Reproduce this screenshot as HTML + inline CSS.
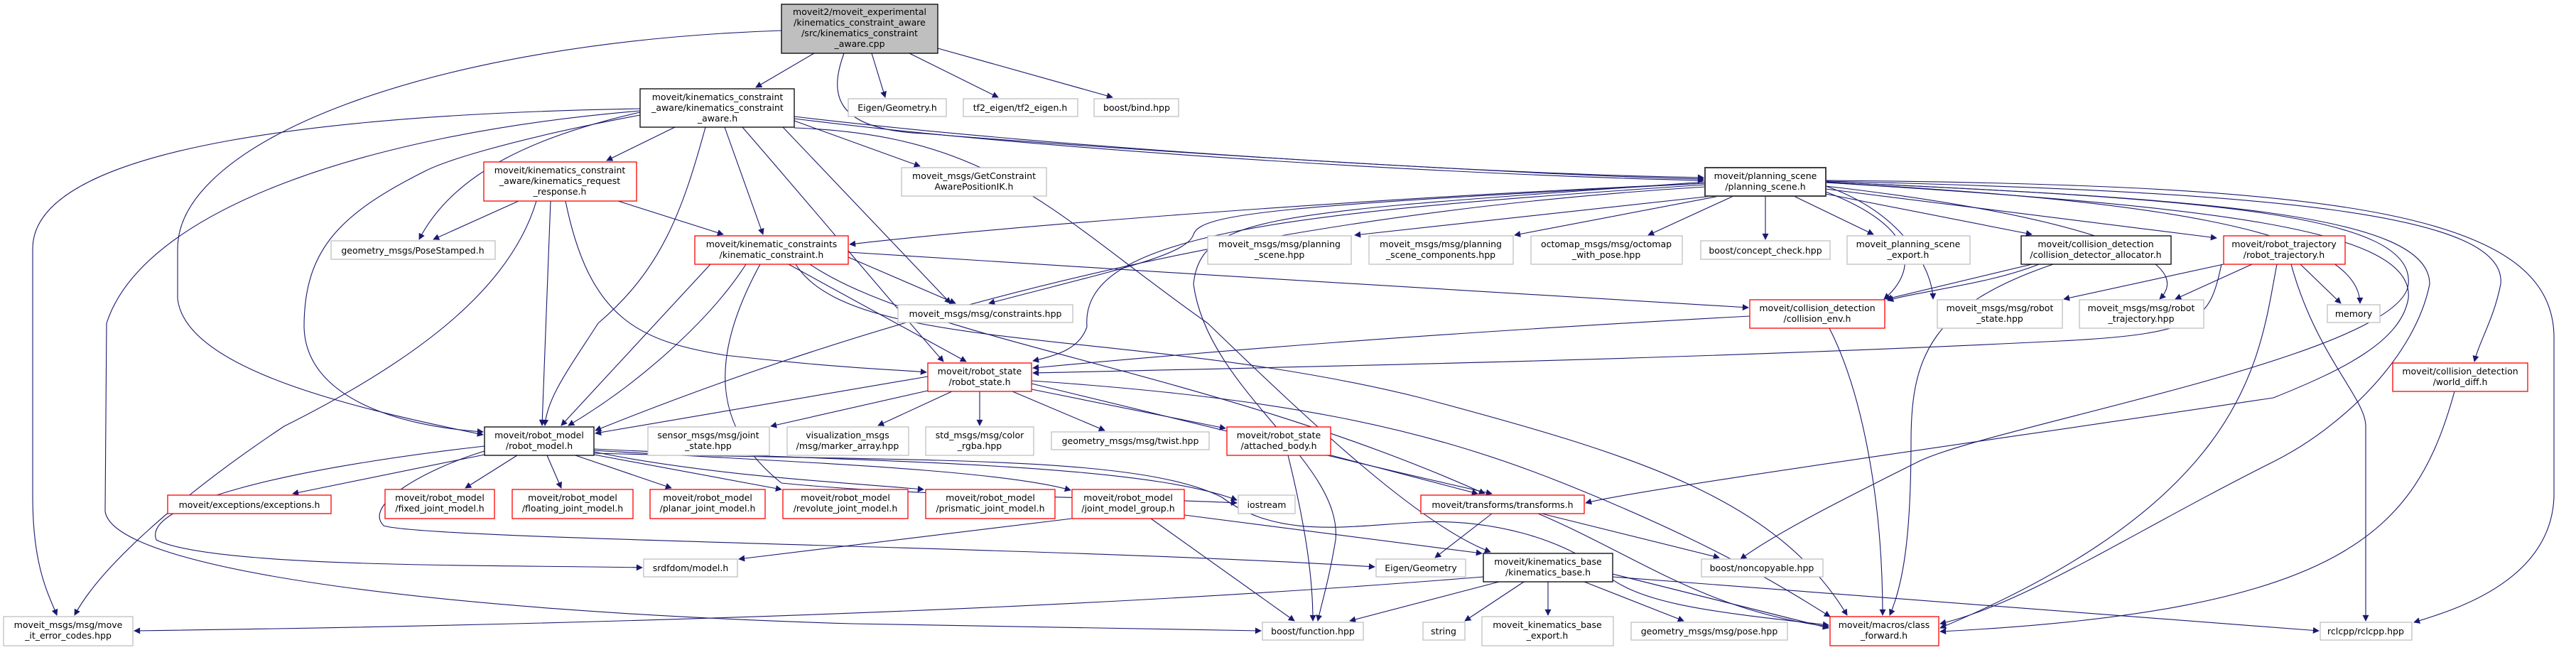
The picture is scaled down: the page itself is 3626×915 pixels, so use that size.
<!DOCTYPE html>
<html><head><meta charset="utf-8"><style>
html,body{margin:0;padding:0;background:#fff;}
svg{display:block;}
text{font-family:"DejaVu Sans","Liberation Sans",sans-serif;font-size:12.5px;fill:#000;text-anchor:middle;}
.e{fill:none;stroke:#191970;stroke-width:1.1;}
.r{fill:#fff;stroke:#ff0000;stroke-width:1.3;}
.g{fill:#fff;stroke:#bfbfbf;stroke-width:1.3;}
.b{fill:#fff;stroke:#000;stroke-width:1.3;}
</style></head><body>
<svg width="3626" height="915" viewBox="0 0 3626 915" xmlns="http://www.w3.org/2000/svg">
<defs><marker id="a" viewBox="0 0 10 10" refX="9" refY="5" markerWidth="11" markerHeight="9" markerUnits="userSpaceOnUse" orient="auto"><path d="M0,0 L10,5 L0,10 z" fill="#191970"/></marker></defs>
<g class="e" marker-end="url(#a)">
<!-- root -->
<path d="M1100,43 C600,60 250,200 250,350 L250,420 C260,520 500,575 680,612"/>
<path d="M1146,75 L1064,123"/>
<path d="M1227,75 L1246,137"/>
<path d="M1280,75 L1405,137"/>
<path d="M1320,68 L1566,137"/>
<path d="M1188,75 C1168,130 1170,182 1300,188 C1700,220 2200,248 2398,252"/>
<!-- KCA -->
<path d="M901,153 C500,160 46,200 46,350 L46,700 C46,800 70,840 80,866"/>
<path d="M901,156 C500,190 200,300 150,455 L148,720 C160,800 600,860 1200,878 L1775,888"/>
<path d="M901,162 C700,200 620,230 600,240 C480,300 428,350 428,460 C430,560 560,600 680,608"/>
<path d="M901,158 C760,190 640,240 590,337"/>
<path d="M950,179 L854,226"/>
<path d="M1020,179 L1074,330"/>
<path d="M993,179 C960,300 930,380 842,455 C800,520 770,560 767,599"/>
<path d="M1045,179 C1150,300 1250,420 1328,509"/>
<path d="M1102,179 L1338,427"/>
<path d="M1118,170 L1295,234"/>
<path d="M1118,164 C1500,210 2100,245 2398,250"/>
<path d="M1118,167 C1500,215 2100,248 2398,254"/>
<path d="M1118,180 C1400,190 1480,300 1700,455 C1850,600 2000,740 2098,777"/>
<!-- RR -->
<path d="M730,283 L610,337"/>
<path d="M870,283 L1018,330"/>
<path d="M775,283 L763,599"/>
<path d="M755,283 C720,400 600,500 400,600 C250,700 140,800 105,866"/>
<path d="M796,283 C830,450 900,480 1020,500 C1200,520 1260,520 1304,524"/>
<!-- KC -->
<path d="M1194,355 C1600,380 2200,420 2461,433"/>
<path d="M1194,362 L1345,427"/>
<path d="M1110,372 L1360,509"/>
<path d="M1000,372 L790,599"/>
<path d="M1050,372 C1000,450 900,540 800,599"/>
<path d="M1140,372 C1300,480 1700,520 2090,695"/>
<path d="M1120,372 C1200,500 1600,460 2000,560 C2300,640 2500,700 2600,866"/>
<path d="M1070,372 C1000,500 1000,600 1100,680 C1300,700 1600,700 1741,708"/>
<!-- PSC -->
<path d="M2400,258 C1900,280 1400,320 1196,344"/>
<path d="M2400,263 C1800,300 1300,420 838,606"/>
<path d="M2410,276 L1907,331"/>
<path d="M2420,276 L2132,331"/>
<path d="M2440,276 L2320,331"/>
<path d="M2485,276 L2485,337"/>
<path d="M2525,276 L2637,330"/>
<path d="M2570,273 L2860,330"/>
<path d="M2570,266 L3120,335"/>
<path d="M2400,258 C1800,290 1690,300 1680,330 C1670,360 1570,380 1392,427"/>
<path d="M2400,260 C1800,300 1520,330 1530,460 C1520,490 1490,500 1454,508"/>
<path d="M2400,256 C1800,300 1690,300 1680,400 C1700,550 1890,650 1880,760 C1870,820 1860,850 1855,874"/>
<path d="M2570,270 C2700,320 2700,380 2652,421"/>
<path d="M2570,262 C2680,300 2720,380 2721,421"/>
<path d="M2570,262 C2900,300 3100,360 3040,421"/>
<path d="M2570,257 C3000,280 3320,320 3322,427"/>
<path d="M2570,257 C3100,290 3400,320 3390,420 C3380,480 3300,520 3200,560 C2800,620 2300,690 2232,708"/>
<path d="M2570,256 C3100,280 3400,300 3390,400 C3380,500 2800,600 2700,650 C2600,700 2500,750 2450,787"/>
<path d="M2570,256 C3100,280 3420,300 3420,400 C3400,500 3300,600 3200,650 C3000,750 2850,850 2731,878"/>
<path d="M2570,255 C3200,270 3530,300 3520,400 C3510,450 3490,480 3483,509"/>
<path d="M2570,254 C3300,260 3600,300 3595,480 L3595,700 C3590,820 3450,860 3398,876"/>
<!-- RT -->
<path d="M3130,372 L2905,421"/>
<path d="M3170,372 L3062,421"/>
<path d="M3238,372 L3295,427"/>
<path d="M3127,372 C3110,450 3100,470 2900,480 C2400,505 1900,515 1454,525"/>
<path d="M3205,372 C3180,500 3170,700 2731,884"/>
<path d="M3225,372 C3260,500 3330,560 3330,600 L3330,874"/>
<!-- CDA -->
<path d="M2860,372 L2655,421"/>
<path d="M2870,372 C2800,400 2700,410 2657,423"/>
<path d="M2890,372 C2720,430 2690,500 2690,620 C2690,750 2680,820 2660,866"/>
<!-- CENV -->
<path d="M2463,445 C2000,470 1700,495 1454,518"/>
<path d="M2575,462 C2620,550 2650,700 2650,866"/>
<!-- WD -->
<path d="M3455,551 C3400,750 3300,860 2731,889"/>
<!-- RS -->
<path d="M1306,530 L838,610"/>
<path d="M1310,549 L1085,600"/>
<path d="M1340,551 L1236,599"/>
<path d="M1379,551 L1379,599"/>
<path d="M1425,551 L1555,606"/>
<path d="M1452,548 L1725,603"/>
<path d="M1452,540 C1700,600 1900,650 2100,695"/>
<path d="M1452,536 C1800,560 2000,600 2200,680 C2400,760 2500,820 2576,868"/>
<!-- AB -->
<path d="M1870,640 L2080,695"/>
<path d="M1813,641 C1840,750 1848,820 1848,874"/>
<!-- RM -->
<path d="M682,640 L412,695"/>
<path d="M728,641 L655,687"/>
<path d="M770,641 L790,687"/>
<path d="M810,641 L945,687"/>
<path d="M836,640 L1100,689"/>
<path d="M836,636 C1000,670 1200,680 1300,689"/>
<path d="M836,634 C1100,650 1400,660 1507,690"/>
<path d="M836,632 C1200,650 1600,650 1741,704"/>
<path d="M836,638 C1300,650 1600,640 1720,700 C1800,760 1900,740 2000,735 C2100,730 2200,760 2250,800 C2300,850 2400,860 2574,880"/>
<path d="M682,628 C400,660 200,710 220,760 C300,800 700,795 904,799"/>
<path d="M682,635 C600,660 510,710 540,740 C600,760 1500,770 1935,798"/>
<!-- JMG -->
<path d="M1509,730 L1040,787"/>
<path d="M1620,730 L1822,874"/>
<path d="M1667,725 L2086,779"/>
<!-- TR -->
<path d="M2100,723 L2020,785"/>
<path d="M2170,723 L2420,785"/>
<path d="M2165,723 C2300,780 2400,860 2574,882"/>
<!-- KB -->
<path d="M2110,819 L1900,874"/>
<path d="M2145,819 L2062,874"/>
<path d="M2179,819 L2179,866"/>
<path d="M2230,819 L2370,874"/>
<path d="M2270,808 L2574,884"/>
<path d="M2270,812 L3264,888"/>
<path d="M2088,812 C1500,860 800,880 189,888"/>
</g>
<!-- nodes -->
<rect x="1100" y="6" width="220" height="69" fill="#bfbfbf" stroke="#000" stroke-width="1.3"/>
<text x="1210" y="21">moveit2/moveit_experimental</text>
<text x="1210" y="36">/kinematics_constraint_aware</text>
<text x="1210" y="51">/src/kinematics_constraint</text>
<text x="1210" y="66">_aware.cpp</text>

<rect class="b" x="901" y="125" width="217" height="54"/>
<text x="1010" y="141">moveit/kinematics_constraint</text>
<text x="1010" y="156">_aware/kinematics_constraint</text>
<text x="1010" y="171">_aware.h</text>

<rect class="g" x="1194" y="139" width="138" height="25"/><text x="1263" y="156">Eigen/Geometry.h</text>
<rect class="g" x="1356" y="139" width="161" height="25"/><text x="1436" y="156">tf2_eigen/tf2_eigen.h</text>
<rect class="g" x="1540" y="139" width="119" height="25"/><text x="1600" y="156">boost/bind.hpp</text>

<rect class="r" x="681" y="228" width="215" height="55"/>
<text x="788" y="244">moveit/kinematics_constraint</text>
<text x="788" y="259">_aware/kinematics_request</text>
<text x="788" y="274">_response.h</text>

<rect class="g" x="1269" y="236" width="204" height="40"/><text x="1371" y="252">moveit_msgs/GetConstraint</text><text x="1371" y="267">AwarePositionIK.h</text>

<rect x="2400" y="236" width="170" height="40" fill="#fff" stroke="#404040" stroke-width="2"/><text x="2485" y="252">moveit/planning_scene</text><text x="2485" y="267">/planning_scene.h</text>

<rect class="g" x="466" y="339" width="231" height="26"/><text x="581" y="357">geometry_msgs/PoseStamped.h</text>
<rect class="r" x="978" y="332" width="216" height="40"/><text x="1086" y="348">moveit/kinematic_constraints</text><text x="1086" y="363">/kinematic_constraint.h</text>
<rect class="g" x="1700" y="332" width="202" height="40"/><text x="1801" y="348">moveit_msgs/msg/planning</text><text x="1801" y="363">_scene.hpp</text>
<rect class="g" x="1927" y="332" width="203" height="40"/><text x="2028" y="348">moveit_msgs/msg/planning</text><text x="2028" y="363">_scene_components.hpp</text>
<rect class="g" x="2155" y="332" width="213" height="40"/><text x="2261" y="348">octomap_msgs/msg/octomap</text><text x="2261" y="363">_with_pose.hpp</text>
<rect class="g" x="2394" y="339" width="182" height="26"/><text x="2485" y="357">boost/concept_check.hpp</text>
<rect class="g" x="2600" y="332" width="173" height="40"/><text x="2686" y="348">moveit_planning_scene</text><text x="2686" y="363">_export.h</text>
<rect class="b" x="2845" y="332" width="211" height="40"/><text x="2950" y="348">moveit/collision_detection</text><text x="2950" y="363">/collision_detector_allocator.h</text>
<rect class="r" x="3130" y="332" width="171" height="40"/><text x="3215" y="348">moveit/robot_trajectory</text><text x="3215" y="363">/robot_trajectory.h</text>

<rect class="g" x="1264" y="429" width="246" height="25"/><text x="1387" y="446">moveit_msgs/msg/constraints.hpp</text>
<rect class="r" x="2463" y="422" width="190" height="40"/><text x="2558" y="438">moveit/collision_detection</text><text x="2558" y="453">/collision_env.h</text>
<rect class="g" x="2727" y="422" width="176" height="40"/><text x="2815" y="438">moveit_msgs/msg/robot</text><text x="2815" y="453">_state.hpp</text>
<rect class="g" x="2927" y="422" width="175" height="40"/><text x="3014" y="438">moveit_msgs/msg/robot</text><text x="3014" y="453">_trajectory.hpp</text>
<rect class="g" x="3276" y="429" width="74" height="25"/><text x="3313" y="446">memory</text>

<rect class="r" x="1306" y="511" width="146" height="40"/><text x="1379" y="527">moveit/robot_state</text><text x="1379" y="542">/robot_state.h</text>
<rect class="r" x="3368" y="511" width="190" height="40"/><text x="3463" y="527">moveit/collision_detection</text><text x="3463" y="542">/world_diff.h</text>

<rect class="b" x="682" y="601" width="154" height="40"/><text x="759" y="617">moveit/robot_model</text><text x="759" y="632">/robot_model.h</text>
<rect class="g" x="912" y="601" width="171" height="40"/><text x="997" y="617">sensor_msgs/msg/joint</text><text x="997" y="632">_state.hpp</text>
<rect class="g" x="1108" y="601" width="171" height="40"/><text x="1193" y="617">visualization_msgs</text><text x="1193" y="632">/msg/marker_array.hpp</text>
<rect class="g" x="1303" y="601" width="152" height="40"/><text x="1379" y="617">std_msgs/msg/color</text><text x="1379" y="632">_rgba.hpp</text>
<rect class="g" x="1480" y="608" width="222" height="25"/><text x="1591" y="625">geometry_msgs/msg/twist.hpp</text>
<rect class="r" x="1727" y="601" width="146" height="40"/><text x="1800" y="617">moveit/robot_state</text><text x="1800" y="632">/attached_body.h</text>

<rect class="r" x="236" y="697" width="230" height="26"/><text x="351" y="715">moveit/exceptions/exceptions.h</text>
<rect class="r" x="542" y="689" width="154" height="41"/><text x="619" y="705">moveit/robot_model</text><text x="619" y="720">/fixed_joint_model.h</text>
<rect class="r" x="721" y="689" width="170" height="41"/><text x="806" y="705">moveit/robot_model</text><text x="806" y="720">/floating_joint_model.h</text>
<rect class="r" x="915" y="689" width="162" height="41"/><text x="996" y="705">moveit/robot_model</text><text x="996" y="720">/planar_joint_model.h</text>
<rect class="r" x="1102" y="689" width="176" height="41"/><text x="1190" y="705">moveit/robot_model</text><text x="1190" y="720">/revolute_joint_model.h</text>
<rect class="r" x="1303" y="689" width="182" height="41"/><text x="1394" y="705">moveit/robot_model</text><text x="1394" y="720">/prismatic_joint_model.h</text>
<rect class="r" x="1509" y="689" width="158" height="41"/><text x="1588" y="705">moveit/robot_model</text><text x="1588" y="720">/joint_model_group.h</text>
<rect class="g" x="1743" y="697" width="80" height="26"/><text x="1783" y="715">iostream</text>
<rect class="r" x="2000" y="697" width="230" height="26"/><text x="2115" y="715">moveit/transforms/transforms.h</text>

<rect class="g" x="906" y="787" width="132" height="25"/><text x="972" y="804">srdfdom/model.h</text>
<rect class="g" x="1937" y="787" width="126" height="25"/><text x="2000" y="804">Eigen/Geometry</text>
<rect class="b" x="2088" y="779" width="182" height="40"/><text x="2179" y="795">moveit/kinematics_base</text><text x="2179" y="810">/kinematics_base.h</text>
<rect class="g" x="2395" y="787" width="171" height="25"/><text x="2480" y="804">boost/noncopyable.hpp</text>

<rect class="g" x="5" y="868" width="182" height="41"/><text x="96" y="884">moveit_msgs/msg/move</text><text x="96" y="899">_it_error_codes.hpp</text>
<rect class="g" x="1777" y="876" width="142" height="25"/><text x="1848" y="893">boost/function.hpp</text>
<rect class="g" x="2003" y="876" width="59" height="25"/><text x="2032" y="893">string</text>
<rect class="g" x="2086" y="868" width="185" height="41"/><text x="2178" y="884">moveit_kinematics_base</text><text x="2178" y="899">_export.h</text>
<rect class="g" x="2296" y="876" width="220" height="25"/><text x="2406" y="893">geometry_msgs/msg/pose.hpp</text>
<rect class="r" x="2576" y="868" width="153" height="41"/><text x="2652" y="884">moveit/macros/class</text><text x="2652" y="899">_forward.h</text>
<rect class="g" x="3266" y="876" width="129" height="25"/><text x="3330" y="893">rclcpp/rclcpp.hpp</text>
</svg>
</body></html>
